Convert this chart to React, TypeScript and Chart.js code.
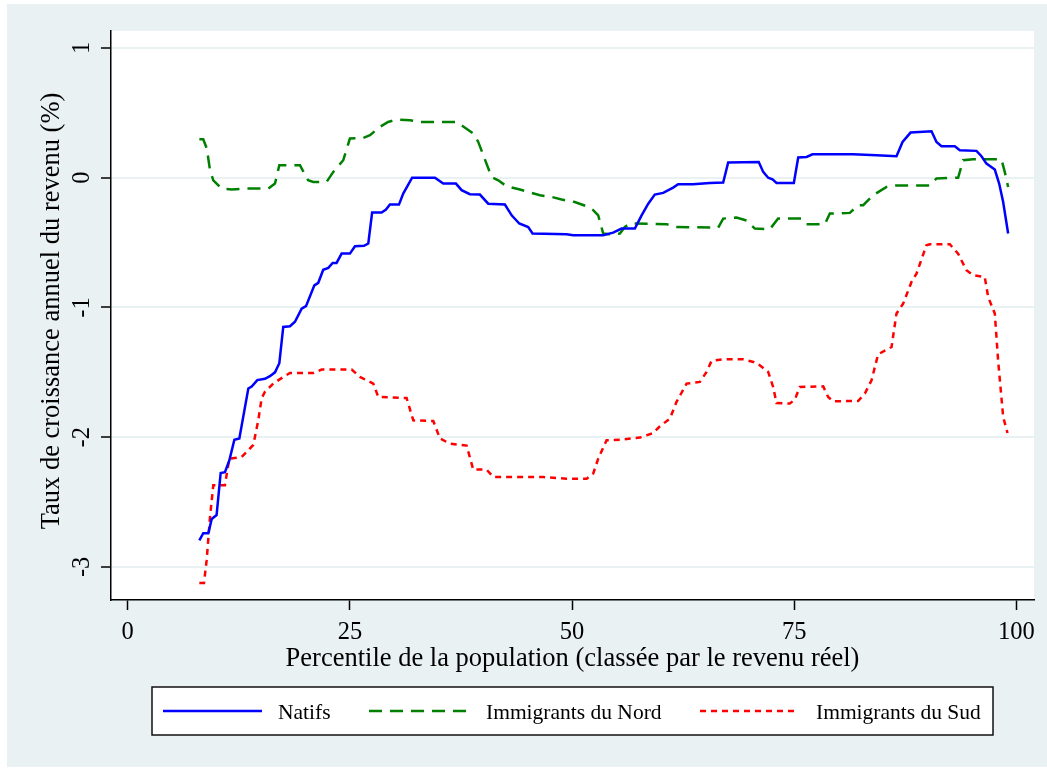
import React, { useEffect, useRef } from "react";
import { Chart, registerables } from "chart.js";

Chart.register(...registerables);

// [percentile, growth %]
const natifs: [number, number][] = [
  [8.06, -2.795], [8.5, -2.74], [9.07, -2.74], [9.45, -2.63], [10.0, -2.6], [10.46, -2.276],
  [10.94, -2.27], [11.43, -2.18], [12.0, -2.02], [12.56, -2.01], [13.57, -1.625], [13.95, -1.61],
  [14.58, -1.56], [15.44, -1.55], [16.0, -1.53], [16.57, -1.5], [17.06, -1.43], [17.5, -1.15],
  [18.26, -1.145], [18.82, -1.11], [19.57, -1.01], [20.06, -0.99], [21.0, -0.83], [21.44, -0.81],
  [22.0, -0.71], [22.57, -0.695], [23.06, -0.657], [23.5, -0.657], [24.07, -0.585], [25.0, -0.585],
  [25.57, -0.528], [26.58, -0.525], [27.07, -0.507], [27.5, -0.268], [28.57, -0.268], [29.06, -0.245],
  [29.5, -0.207], [30.52, -0.207], [31.0, -0.122], [32.0, 0], [34.57, 0], [35.5, -0.045],
  [36.93, -0.045], [37.57, -0.096], [38.5, -0.127], [39.63, -0.13], [40.56, -0.2], [42.44, -0.207],
  [43.2, -0.29], [44.05, -0.353], [45.06, -0.38], [45.55, -0.43], [49.38, -0.435], [50.12, -0.443],
  [53.5, -0.443], [54.62, -0.423], [55.57, -0.392], [57.06, -0.392], [57.82, -0.29], [58.57, -0.2],
  [59.3, -0.13], [60.25, -0.117], [61.37, -0.076], [61.93, -0.05], [63.6, -0.05], [65.5, -0.04],
  [67.0, -0.037], [67.56, 0.117], [71.0, 0.122], [71.5, 0.045], [72.06, 0.0], [72.55, -0.012],
  [73.0, -0.04], [74.95, -0.04], [75.44, 0.156], [76.38, 0.16], [77.05, 0.181], [81.6, 0.181],
  [84.25, 0.173], [86.5, 0.166], [87.18, 0.276], [88.08, 0.348], [90.44, 0.358], [91.0, 0.276],
  [91.56, 0.243], [93.06, 0.243], [93.62, 0.212], [95.5, 0.207], [96.06, 0.166], [96.62, 0.109],
  [97.56, 0.063], [98.05, -0.045], [98.5, -0.187], [99.06, -0.43],
];

const immigrantsNord: [number, number][] = [
  [8.06, 0.297], [8.5, 0.297], [8.9, 0.225], [9.26, 0.058], [9.63, -0.02], [10.57, -0.083],
  [11.7, -0.09], [13.38, -0.083], [15.82, -0.083], [16.57, -0.045], [17.06, 0.096], [19.38, 0.096],
  [20.3, -0.02], [20.88, -0.032], [22.38, -0.032], [23.13, 0.045], [24.25, 0.135], [25.0, 0.302],
  [26.5, 0.307], [27.26, 0.328], [28.38, 0.392], [29.3, 0.43], [30.26, 0.449], [31.75, 0.443],
  [32.88, 0.43], [37.0, 0.43], [37.75, 0.395], [38.88, 0.341], [39.44, 0.276], [40.94, 0.006],
  [41.69, -0.02], [42.63, -0.066], [44.13, -0.091], [46.38, -0.135], [47.7, -0.148], [48.82, -0.168],
  [50.3, -0.187], [51.63, -0.22], [52.38, -0.25], [52.94, -0.29], [53.5, -0.43], [54.25, -0.435],
  [55.38, -0.43], [55.94, -0.38], [56.5, -0.353], [60.63, -0.358], [61.75, -0.38], [66.44, -0.384],
  [67.0, -0.315], [68.5, -0.307], [69.63, -0.33], [70.56, -0.392], [72.25, -0.397], [73.18, -0.315],
  [75.8, -0.315], [76.38, -0.358], [78.44, -0.358], [79.0, -0.276], [81.25, -0.271], [82.18, -0.212],
  [82.75, -0.212], [83.87, -0.135], [85.38, -0.071], [86.12, -0.06], [90.25, -0.06], [91.0, -0.006],
  [93.43, 0.0], [94.0, 0.135], [95.12, 0.143], [98.3, 0.143], [98.68, 0.045], [99.06, -0.071],
];

const immigrantsSud: [number, number][] = [
  [8.06, -3.124], [8.58, -3.124], [8.88, -2.95], [9.26, -2.615], [9.63, -2.37], [10.94, -2.37],
  [11.43, -2.165], [12.82, -2.153], [13.38, -2.114], [14.13, -2.06], [14.69, -1.87], [15.07, -1.7],
  [15.44, -1.65], [16.38, -1.587], [17.5, -1.536], [18.26, -1.505], [20.88, -1.505], [21.82, -1.479],
  [25.2, -1.479], [26.13, -1.536], [27.63, -1.587], [28.19, -1.69], [31.38, -1.698], [32.13, -1.87],
  [34.38, -1.875], [35.13, -2.01], [36.26, -2.05], [38.13, -2.065], [38.88, -2.25], [40.38, -2.25],
  [41.13, -2.307], [46.75, -2.307], [49.38, -2.32], [51.63, -2.32], [52.38, -2.28], [52.94, -2.165],
  [53.88, -2.024], [55.38, -2.019], [57.63, -2.003], [59.12, -1.968], [59.88, -1.916], [61.0, -1.857],
  [61.75, -1.728], [62.88, -1.587], [64.38, -1.574], [65.13, -1.497], [65.69, -1.412], [67.0, -1.4],
  [69.25, -1.4], [70.4, -1.42], [71.12, -1.446], [72.06, -1.497], [72.62, -1.613], [73.0, -1.736],
  [74.5, -1.741], [75.06, -1.71], [75.62, -1.613], [78.25, -1.608], [78.81, -1.69], [79.37, -1.723],
  [82.18, -1.721], [82.94, -1.664], [83.69, -1.561], [84.43, -1.361], [85.94, -1.305], [86.5, -1.047],
  [87.25, -0.97], [88.19, -0.803], [88.75, -0.739], [89.87, -0.52], [90.25, -0.513], [92.5, -0.513],
  [93.43, -0.585], [94.37, -0.713], [95.12, -0.752], [96.43, -0.765], [96.81, -0.919], [97.56, -1.047],
  [97.93, -1.407], [98.5, -1.844], [98.99, -1.968],
];

const seriesLabels = ["Natifs", "Immigrants du Nord", "Immigrants du Sud"];
const xTicks = [0, 25, 50, 75, 100];
const yTicks = [-3, -2, -1, 0, 1];
const xTitle = "Percentile de la population (classée par le revenu réel)";
const yTitle = "Taux de croissance annuel du revenu (%)";

const FONT = "'Liberation Serif', 'Times New Roman', serif";
const BG = "#EAF1F3";

const colors = ["#0000FF", "#008000", "#FF0000"];
const dashes = [[], [13, 8], [6, 5]];

export default function App() {
  const ref = useRef<HTMLCanvasElement>(null);

  useEffect(() => {
    const canvas = ref.current!;
    const decor = {
      id: "decor",
      beforeDraw(chart: any) {
        const ctx = chart.ctx;
        const a = chart.chartArea;
        ctx.save();
        ctx.fillStyle = "#FFFFFF";
        ctx.fillRect(0, 0, chart.width, chart.height);
        ctx.fillStyle = BG;
        ctx.fillRect(7, 4, 1040, 763);
        ctx.fillStyle = "#FFFFFF";
        ctx.fillRect(a.left, a.top, a.right - a.left, a.bottom - a.top);
        ctx.restore();
      },
      afterDraw(chart: any) {
        const ctx = chart.ctx;
        const a = chart.chartArea;
        const ys = chart.scales.y;
        ctx.save();
        ctx.fillStyle = "#000";
        // y tick labels (rotated)
        ctx.font = `24.5px ${FONT}`;
        ctx.textAlign = "center";
        ctx.textBaseline = "alphabetic";
        ys.ticks.forEach((t: any) => {
          const py = ys.getPixelForValue(t.value);
          ctx.save();
          ctx.translate(89, py);
          ctx.rotate(-Math.PI / 2);
          ctx.fillText(String(t.value), 0, 0);
          ctx.restore();
        });
        // axis titles
        ctx.font = `26.5px ${FONT}`;
        ctx.save();
        ctx.translate(59, 311);
        ctx.rotate(-Math.PI / 2);
        ctx.fillText(yTitle, 0, 0);
        ctx.restore();
        ctx.fillText(xTitle, (a.left + a.right) / 2, 666);
        // legend
        ctx.fillStyle = "#FFFFFF";
        ctx.fillRect(152, 687, 841, 48);
        ctx.strokeStyle = "#111";
        ctx.lineWidth = 1.5;
        ctx.strokeRect(152, 687, 841, 48);
        const items = [
          { x0: 163, x1: 262, tx: 278 },
          { x0: 369, x1: 470, tx: 486 },
          { x0: 700, x1: 798, tx: 816 },
        ];
        ctx.font = `21.5px ${FONT}`;
        ctx.textAlign = "left";
        items.forEach((it, i) => {
          ctx.strokeStyle = colors[i];
          ctx.lineWidth = 2.5;
          ctx.setLineDash(dashes[i]);
          ctx.beginPath();
          ctx.moveTo(it.x0, 711);
          ctx.lineTo(it.x1, 711);
          ctx.stroke();
          ctx.setLineDash([]);
          ctx.fillStyle = "#000";
          ctx.fillText(seriesLabels[i], it.tx, 719);
        });
        ctx.restore();
      },
    };

    const mk = (pts: [number, number][], i: number) => ({
      label: seriesLabels[i],
      data: pts.map(([x, y]) => ({ x, y })),
      borderColor: colors[i],
      backgroundColor: colors[i],
      borderWidth: 2.5,
      borderDash: dashes[i],
      pointRadius: 0,
      tension: 0,
      fill: false,
    });

    const chart = new Chart(canvas, {
      type: "line",
      data: {
        datasets: [mk(natifs, 0), mk(immigrantsNord, 1), mk(immigrantsSud, 2)],
      },
      options: {
        animation: false,
        responsive: false,
        devicePixelRatio: 1,
        layout: { padding: { left: 7, top: 31, right: 13, bottom: 0 } },
        plugins: { legend: { display: false }, tooltip: { enabled: false } },
        scales: {
          x: {
            type: "linear",
            min: -1.88,
            max: 101.97,
            afterBuildTicks: (s: any) => {
              s.ticks = xTicks.map((v) => ({ value: v }));
            },
            afterFit: (s: any) => {
              s.height = 168;
            },
            grid: {
              display: true,
              drawOnChartArea: false,
              drawTicks: true,
              tickLength: 10,
              tickColor: "#000",
              tickWidth: 1.5,
            },
            border: { display: true, color: "#000", width: 1.5 },
            ticks: {
              color: "#000",
              font: { family: FONT, size: 24.5 },
              padding: 8,
              maxRotation: 0,
              minRotation: 0,
              callback: (v: any) => String(v),
            },
          },
          y: {
            type: "linear",
            min: -3.255,
            max: 1.131,
            afterBuildTicks: (s: any) => {
              s.ticks = yTicks.map((v) => ({ value: v }));
            },
            afterFit: (s: any) => {
              s.width = 104;
            },
            grid: {
              display: true,
              drawOnChartArea: true,
              drawTicks: true,
              tickLength: 10,
              color: BG,
              lineWidth: 2,
              tickColor: "#000",
              tickWidth: 1.5,
            },
            border: { display: true, color: "#000", width: 1.5 },
            ticks: { display: false },
          },
        },
      },
      plugins: [decor],
    } as any);

    return () => chart.destroy();
  }, []);

  return (
    <div style={{ position: "absolute", left: 0, top: 0, width: 1047, height: 768 }}>
      <canvas ref={ref} width={1047} height={768} style={{ display: "block" }} />
    </div>
  );
}
